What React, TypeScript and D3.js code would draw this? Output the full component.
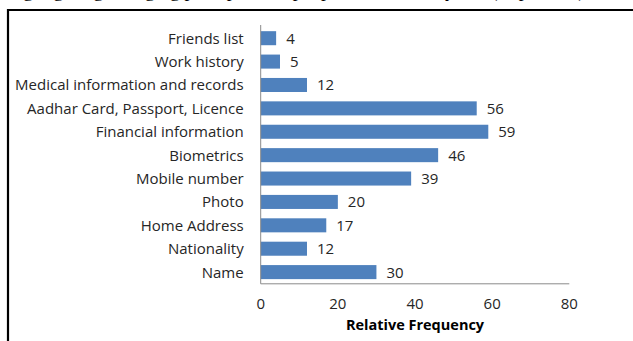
import React from "react";
import * as d3 from "d3";

const categories = [
  "Friends list",
  "Work history",
  "Medical information and records",
  "Aadhar Card, Passport, Licence",
  "Financial information",
  "Biometrics",
  "Mobile number",
  "Photo",
  "Home Address",
  "Nationality",
  "Name",
];
const values = [4, 5, 12, 56, 59, 46, 39, 20, 17, 12, 30];
const xTicks = [0, 20, 40, 60, 80];
const xTitle = "Relative Frequency";
const caption = "highlighting changing perception of people in the last 5 years (% persons)";

const W = 633;
const H = 341;
const plot = { left: 260.7, right: 569.3, top: 26.5, bottom: 283.8 };
const FONT = "'Open Sans', Lato, sans-serif";
const FS = 15;

export default function App() {
  const x = d3.scaleLinear().domain([0, 80]).range([plot.left, plot.right]);
  const y = d3
    .scaleBand<string>()
    .domain(categories)
    .range([plot.top, plot.bottom])
    .paddingInner(0.4)
    .paddingOuter(0.2);

  return (
    <svg
      width={W}
      height={H}
      style={{ position: "fixed", left: 0, top: 0, background: "#fff" }}
    >
      <rect x={0} y={0} width={W} height={H} fill="#fff" />
      <text
        x={8}
        y={-3}
        fontFamily="'Liberation Serif', 'Times New Roman', serif"
        fontSize={19.5}
        fill="#000"
      >
        {caption}
      </text>
      <path
        d={`M8,${H + 2} L8,10 L${W + 2},10`}
        fill="none"
        stroke="#000"
        strokeWidth={2.2}
      />
      {categories.map((c, i) => (
        <g key={c}>
          <rect
            x={x(0)}
            y={y(c)!}
            width={x(values[i]) - x(0)}
            height={y.bandwidth()}
            fill="#4F81BD"
          />
          <text
            x={x(values[i]) + 10}
            y={y(c)! + y.bandwidth() / 2}
            dy="0.36em"
            fontFamily={FONT}
            fontSize={FS}
            fill="#262626"
          >
            {values[i]}
          </text>
          <text
            x={plot.left - 17}
            y={y(c)! + y.bandwidth() / 2}
            dy="0.36em"
            textAnchor="end"
            fontFamily={FONT}
            fontSize={FS}
            fill="#262626"
          >
            {c}
          </text>
        </g>
      ))}
      <line
        x1={plot.left}
        x2={plot.left}
        y1={plot.top - 1.5}
        y2={plot.bottom}
        stroke="#8a8a8a"
        strokeWidth={1}
      />
      <line
        x1={plot.left}
        x2={plot.right}
        y1={plot.bottom}
        y2={plot.bottom}
        stroke="#8a8a8a"
        strokeWidth={1}
      />
      {xTicks.map((t) => (
        <text
          key={t}
          x={x(t)}
          y={303.5}
          dy="0.36em"
          textAnchor="middle"
          fontFamily={FONT}
          fontSize={FS}
          fill="#262626"
        >
          {t}
        </text>
      ))}
      <text
        x={(plot.left + plot.right) / 2}
        y={325}
        dy="0.36em"
        textAnchor="middle"
        fontFamily={FONT}
        fontSize={14.5}
        fontWeight="bold"
        fill="#000"
      >
        {xTitle}
      </text>
    </svg>
  );
}
